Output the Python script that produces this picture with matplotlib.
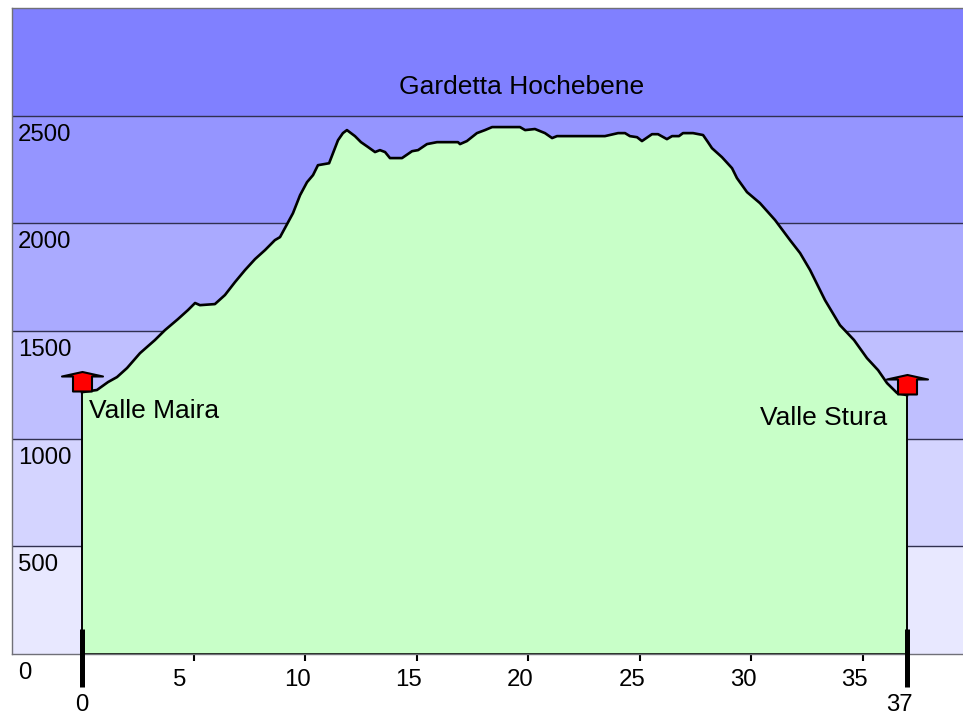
import matplotlib
matplotlib.use("Agg")
import matplotlib.pyplot as plt
from matplotlib.path import Path

plt.rcParams['font.family'] = ['Liberation Sans', 'DejaVu Sans']

title = "Gardetta Hochebene"
start_name = "Valle Maira"
end_name = "Valle Stura"

band_edges = [0, 500, 1000, 1500, 2000, 2500, 3000]
band_colors = ['#E8E8FF', '#D4D4FF', '#BFBFFF', '#AAAAFF', '#9595FF', '#8080FF']
elev_ticks = [0, 500, 1000, 1500, 2000, 2500]
km_ticks = [5, 10, 15, 20, 25, 30, 35]
km_end = [0, 37]

km = [0, 0.67, 1.17, 1.57, 2.02, 2.60, 3.27, 3.72, 4.30, 4.75, 5.07, 5.29, 5.96, 6.41, 6.86,
      7.31, 7.76, 8.21, 8.65, 8.88, 9.10, 9.46, 9.78, 10.09, 10.36, 10.58, 11.08, 11.48,
      11.70, 11.88, 12.24, 12.51, 12.83, 13.14, 13.36, 13.59, 13.81, 14.35, 14.80, 15.07,
      15.47, 15.92, 16.86, 16.95, 17.26, 17.71, 18.07, 18.39, 19.64, 19.87, 20.31, 20.76,
      21.08, 21.30, 21.79, 23.45, 24.04, 24.35, 24.57, 24.89, 25.11, 25.56, 25.83, 26.23,
      26.46, 26.77, 26.95, 27.40, 27.85, 28.07, 28.25, 28.70, 29.15, 29.37, 29.82, 30.40,
      31.08, 31.75, 32.20, 32.65, 33.32, 33.99, 34.62, 35.20, 35.70, 36.10, 36.55, 37.00]
elev = [1216, 1226, 1263, 1286, 1328, 1397, 1458, 1504, 1555, 1597, 1630, 1620, 1625, 1667, 1727,
        1783, 1834, 1876, 1922, 1936, 1978, 2047, 2131, 2191, 2224, 2270, 2279, 2386,
        2419, 2433, 2405, 2377, 2354, 2331, 2340, 2331, 2303, 2303, 2335, 2340,
        2368, 2377, 2377, 2368, 2382, 2419, 2433, 2447, 2447, 2433, 2438, 2419,
        2396, 2405, 2405, 2405, 2419, 2419, 2405, 2400, 2382, 2414, 2414, 2391,
        2405, 2405, 2419, 2419, 2410, 2377, 2349, 2307, 2256, 2210, 2145, 2094,
        2015, 1922, 1862, 1783, 1643, 1527, 1458, 1374, 1318, 1258, 1212, 1202]

W, H = 963, 715
fig = plt.figure(figsize=(W / 100, H / 100), dpi=100)
ax = fig.add_axes([12 / W, (H - 654) / H, (W - 12) / W, (654 - 8) / H])
ax.set_xlim(-70 / 22.3, (W - 82) / 22.3)
ax.set_ylim(0, 3000)

for lo, hi, c in zip(band_edges[:-1], band_edges[1:], band_colors):
    ax.axhspan(lo, hi, color=c, lw=0, zorder=0)
for v in band_edges[1:-1]:
    ax.axhline(v, color='#303050', lw=1.0, zorder=1)

ax.fill_between(km, elev, 0, color='#C8FFC8', lw=0, zorder=2)
ax.plot(km, elev, color='black', lw=1.9, zorder=3, solid_joinstyle='round')
ax.vlines(km_end, 0, [elev[0], elev[-1]], color='black', lw=1.4, zorder=3)
ax.plot(km_end, [0, 0], color='black', lw=1.8, zorder=3, solid_capstyle='butt')

for s in ax.spines.values():
    s.set_color('#707078')
    s.set_linewidth(1.0)
ax.spines['right'].set_visible(False)

ax.set_xticks(km_ticks)
ax.set_xticklabels([])
ax.set_yticks([])
ax.tick_params(axis='x', length=5.2, width=1.5, color='black')

# thick end markers at start and finish
for x in km_end:
    ax.plot([x, x], [-153, 116], color='black', lw=3.6, clip_on=False, zorder=5,
            solid_capstyle='butt')

FS = 17.3
FS_NAME = 19
PX = 0.72
for t in km_ticks:
    ax.annotate(str(t), xy=(t, 0), xytext=(-21 * PX, -26 * PX), textcoords='offset points',
                ha='left', va='center', fontsize=FS, annotation_clip=False)
ax.annotate(str(km_end[0]), xy=(km_end[0], 0), xytext=(0, -51 * PX), textcoords='offset points',
            ha='center', va='center', fontsize=FS, annotation_clip=False)
ax.annotate(str(km_end[1]), xy=(km_end[1], 0), xytext=(-21 * PX, -51 * PX), textcoords='offset points',
            ha='left', va='center', fontsize=FS, annotation_clip=False)

for v in elev_ticks:
    ax.annotate(str(v), xy=(0, v), xycoords=('axes fraction', 'data'),
                xytext=(6 * PX, -19 * PX), textcoords='offset points',
                ha='left', va='center', fontsize=FS, annotation_clip=False, zorder=6)

ax.text(19.7, 2632, title, ha='center', va='center', fontsize=FS_NAME, zorder=6)
ax.text(0.3, 1130, start_name, ha='left', va='center', fontsize=FS_NAME, zorder=6)
ax.text(36.1, 1098, end_name, ha='right', va='center', fontsize=FS_NAME, zorder=6)

# house-shaped markers at both ends
house = Path([(-9.5, 1), (9.5, 1), (9.5, 16), (20.5, 16), (0, 20.5), (-20.5, 16), (-9.5, 16), (-9.5, 1)],
             closed=True)
ax.plot(km_end, [elev[0], elev[-1]], ls='none', marker=house, markersize=41 * PX,
        markerfacecolor='#FF0000', markeredgecolor='black', markeredgewidth=1.5,
        zorder=7, clip_on=False)

fig.savefig('out.png', dpi=100)
